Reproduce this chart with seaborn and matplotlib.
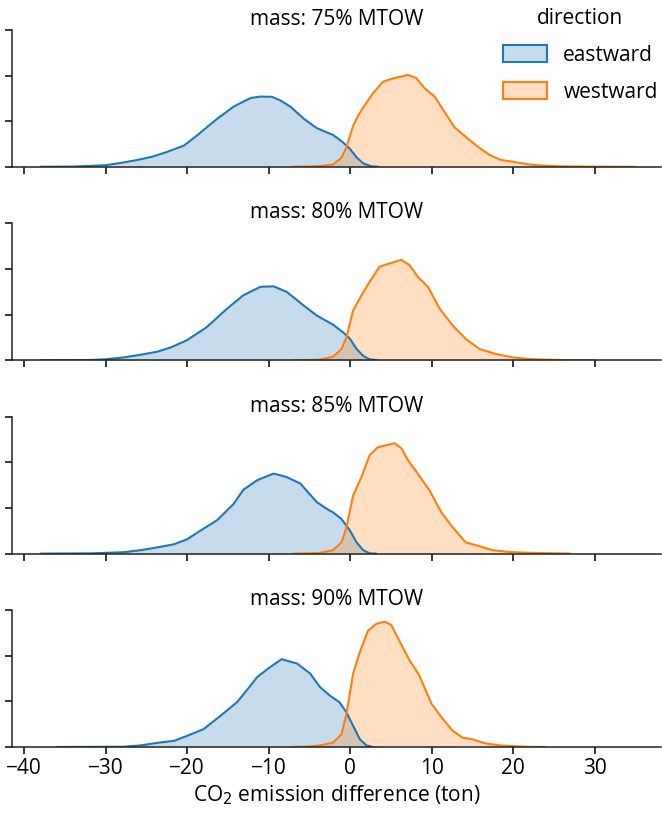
import numpy as np
import pandas as pd
import matplotlib
matplotlib.use("Agg")
import matplotlib.pyplot as plt
from matplotlib.patches import Patch
import seaborn as sns

# ---------------- data ----------------
masses = ["75% MTOW", "80% MTOW", "85% MTOW", "90% MTOW"]
directions = ["eastward", "westward"]

east_75_x = [-38, -34, -31.8, -30, -27.8, -26.1, -24.3, -22.4, -20.4, -18.8, -17.5, -16.3, -14.3, -12.2, -11.0, -9.6,
             -8.5, -7.3, -5.7, -4.1, -2.8, -2.1, -0.9, 0.0, 0.8, 1.6, 2.6, 3.5]
east_75_y = [0, 0.0001, 0.0004, 0.0007, 0.0019, 0.003, 0.0044, 0.0066, 0.0093, 0.0137, 0.0176, 0.0211, 0.0264, 0.0302,
             0.0308, 0.0307, 0.0290, 0.0263, 0.0211, 0.0170, 0.0150, 0.0140, 0.0108, 0.0078, 0.0041, 0.0015, 0.0002, 0]
west_75_x = [-7, -5, -3.7, -2.1, -1.06, -0.45, 0.37, 1.0, 1.6, 2.8, 4.04, 5.27, 6.2, 7.1, 8.1, 9.1, 10.4, 11.6, 12.8,
             14.0, 15.5, 17.1, 18.5, 20.0, 21.6, 23.2, 25.7, 30, 35]
west_75_y = [0, 0.0001, 0.0003, 0.001, 0.004, 0.0086, 0.018, 0.0225, 0.026, 0.0322, 0.0373, 0.0388, 0.0395, 0.0403,
             0.039, 0.0346, 0.0307, 0.024, 0.0174, 0.0137, 0.0093, 0.0052, 0.003, 0.0022, 0.0012, 0.0006, 0.0002,
             0.00005, 0]

east_80_x = [-38, -34, -31.8, -30, -27.8, -25.7, -23.7, -22.0, -20.0, -17.6, -15.1, -13.1, -11.0, -9.4, -7.8, -5.7,
             -4.1, -2.8, -2.1, -0.86, 0.0, 0.8, 1.6, 2.4, 3.3]
east_80_y = [0, 0.00003, 0.0001, 0.0004, 0.0012, 0.0024, 0.0037, 0.0056, 0.0088, 0.0145, 0.0226, 0.0285, 0.0322,
             0.0324, 0.03, 0.024, 0.0196, 0.017, 0.0156, 0.0122, 0.0093, 0.0049, 0.0019, 0.0004, 0]
west_80_x = [-7, -5, -3.7, -2.1, -1.06, -0.45, 0.37, 1.4, 2.4, 3.6, 4.9, 6.3, 7.3, 8.3, 9.55, 11.0, 12.6, 14.2,
             15.9, 17.9, 20.0, 22.4, 25.7, 30]
west_80_y = [0, 0.0001, 0.0003, 0.0015, 0.0049, 0.01, 0.0218, 0.0285, 0.0344, 0.041, 0.0425, 0.044, 0.0417, 0.0366,
             0.0322, 0.0226, 0.0152, 0.0093, 0.0049, 0.0027, 0.0012, 0.0004, 0.0001, 0]

east_85_x = [-38, -31.8, -27.8, -25.7, -23.7, -21.6, -20.0, -18.4, -16.3, -14.3, -13.1, -11.4, -9.4, -7.8, -6.1,
             -4.1, -2.8, -2.1, -1.06, 0.0, 0.8, 1.6, 2.4, 3.2]
east_85_y = [0, 0.0001, 0.0006, 0.0015, 0.0027, 0.0041, 0.0063, 0.01, 0.0147, 0.0218, 0.028, 0.0322, 0.0351, 0.0336,
             0.0307, 0.0226, 0.0195, 0.0181, 0.0152, 0.01, 0.0049, 0.0015, 0.0001, 0]
west_85_x = [-7, -5, -3.7, -2.1, -1.06, -0.45, 0.37, 1.4, 2.4, 3.4, 4.45, 5.47, 6.3, 7.1, 8.3, 9.75, 11.2, 12.6,
             14.2, 15.9, 17.5, 19.5, 22.4, 27]
west_85_y = [0, 0.0001, 0.0003, 0.0015, 0.0049, 0.0115, 0.0255, 0.0336, 0.0432, 0.0466, 0.0476, 0.0484, 0.0462,
             0.041, 0.0351, 0.0277, 0.0181, 0.0115, 0.0049, 0.0032, 0.0015, 0.0007, 0.0003, 0]

east_90_x = [-36, -31.8, -27.8, -25.7, -23.7, -21.6, -20.0, -18.0, -15.9, -13.9, -12.7, -11.4, -9.8, -8.4, -6.5,
             -4.9, -3.7, -2.5, -1.3, -0.45, 0.37, 1.2, 2.0, 2.8]
east_90_y = [0, 0.00005, 0.0001, 0.0007, 0.0018, 0.0027, 0.0049, 0.0078, 0.0137, 0.0196, 0.0248, 0.0307, 0.0351,
             0.0385, 0.0366, 0.0322, 0.0263, 0.0226, 0.0196, 0.0152, 0.0093, 0.0034, 0.0007, 0]
west_90_x = [-7, -5, -3.7, -2.1, -1.06, -0.45, 0.37, 1.2, 2.2, 3.2, 4.24, 5.06, 6.1, 7.3, 8.5, 10.0, 11.4, 12.6,
             13.8, 15.0, 16.7, 18.7, 21.6, 24]
west_90_y = [0, 0.0002, 0.0007, 0.0019, 0.0056, 0.0145, 0.0322, 0.0417, 0.051, 0.054, 0.055, 0.0535, 0.0462, 0.038,
             0.0314, 0.0189, 0.0122, 0.0071, 0.0041, 0.0034, 0.0015, 0.0006, 0.0001, 0]

x_ticks = [-40, -30, -20, -10, 0, 10, 20, 30]

series = {
    ("75% MTOW", "eastward"): (east_75_x, east_75_y),
    ("75% MTOW", "westward"): (west_75_x, west_75_y),
    ("80% MTOW", "eastward"): (east_80_x, east_80_y),
    ("80% MTOW", "westward"): (west_80_x, west_80_y),
    ("85% MTOW", "eastward"): (east_85_x, east_85_y),
    ("85% MTOW", "westward"): (west_85_x, west_85_y),
    ("90% MTOW", "eastward"): (east_90_x, east_90_y),
    ("90% MTOW", "westward"): (west_90_x, west_90_y),
}
rows = []
for (m, d), (xs, ys) in series.items():
    for xv, yv in zip(xs, ys):
        rows.append({"mass": m, "direction": d, "x": xv, "density": yv})
df = pd.DataFrame(rows)

# ---------------- styling ----------------
sns.set_theme(style="ticks")
plt.rcParams["font.family"] = ["Open Sans", "DejaVu Sans"]
plt.rcParams["text.color"] = "black"
plt.rcParams["axes.labelcolor"] = "black"
plt.rcParams["xtick.color"] = "black"
plt.rcParams["ytick.color"] = "black"
plt.rcParams["axes.edgecolor"] = "#222222"
palette = {"eastward": "#1f77b4", "westward": "#ff7f0e"}
FS = 15

fig, axes = plt.subplots(4, 1, figsize=(6.62, 8.14), dpi=100, sharex=True, sharey=True)
fig.subplots_adjust(left=12 / 662, right=0.999, top=1 - 30 / 814, bottom=1 - 747 / 814, hspace=0.414)

for ax, m in zip(axes, masses):
    sub = df[df["mass"] == m]
    for d in directions:
        s = sub[sub["direction"] == d]
        ax.fill_between(s["x"], 0, s["density"], color=palette[d], alpha=0.25, linewidth=0)
    sns.lineplot(data=sub, x="x", y="density", hue="direction", palette=palette,
                 estimator=None, sort=True, linewidth=1.5, legend=False, ax=ax)
    ax.set_title(f"mass: {m}", fontsize=FS, pad=2)
    ax.set_ylabel("")
    ax.set_xlabel("")
    ax.set_yticks([0, 0.02, 0.04, 0.06])
    ax.set_yticklabels([])
    ax.set_ylim(0, 0.06)
    ax.set_xlim(-41.5, 38.2)
    ax.set_xticks(x_ticks)
    ax.tick_params(axis="both", length=5, width=1.1, labelsize=FS, pad=3)
    for sp in ["left", "bottom"]:
        ax.spines[sp].set_linewidth(1.1)
    sns.despine(ax=ax)

axes[-1].set_xlabel("CO$_2$ emission difference (ton)", fontsize=FS, labelpad=3)

handles = [Patch(facecolor=matplotlib.colors.to_rgba(palette[d], 0.25), edgecolor=palette[d], linewidth=1.5)
           for d in directions]
fig.legend(handles, directions, title="direction", loc="upper right", bbox_to_anchor=(1.006, 1.0),
           frameon=False, fontsize=FS, title_fontsize=FS, handlelength=2.1, handleheight=0.9,
           labelspacing=0.75, handletextpad=0.8, borderaxespad=0.0)

fig.savefig("out.png", dpi=100)
